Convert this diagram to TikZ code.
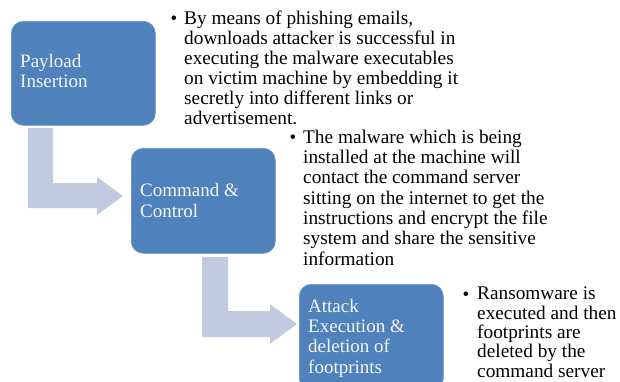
\documentclass[tikz,border=0pt]{standalone}
\usepackage{fontspec}
\setmainfont{Liberation Serif}
\definecolor{boxblue}{HTML}{4F81BD}
\definecolor{arrowgray}{HTML}{C1CBE0}
\definecolor{boxtext}{HTML}{F4F6FA}
\begin{document}
\begin{tikzpicture}[x=1pt,y=-1pt,
  stagebox/.style={fill=boxblue,draw=boxblue!85!white,line width=0.6pt,rounded corners=12pt,minimum width=144pt,anchor=north west,inner sep=0pt},
  stagetext/.style={anchor=base west,align=left,text=boxtext,font=\fontsize{19}{20.2}\selectfont,inner sep=0pt},
  bullettext/.style={anchor=base west,align=left,text=black,font=\fontsize{19.3}{20.3}\selectfont,inner sep=0pt},
  bulletdot/.style={anchor=base,text=black,font=\fontsize{19}{20}\selectfont,inner sep=0pt},
  bentarrow/.style={fill=arrowgray}]
\useasboundingbox (0,0) rectangle (620,382);
% bent arrows
\fill[bentarrow] (28,128) -- (53,128) -- (53,183) -- (97,183) -- (97,177) -- (123,196) -- (97,215) -- (97,208) -- (28,208) -- cycle;
\fill[bentarrow] (202,257) -- (228,257) -- (228,311) -- (270,311) -- (270,304) -- (297,324) -- (270,344) -- (270,337) -- (202,337) -- cycle;
% boxes
\node[stagebox,minimum height=104pt] (b1) at (11,21) {};
\node[stagebox,minimum height=105pt] (b2) at (131,148) {};
\node[stagebox,minimum height=106pt] (b3) at (299,284) {};
% box texts (anchored at the baseline of their last line)
\node[stagetext] (t1) at (20,88) {Payload\\Insertion};
\node[stagetext] (t2) at (140,217) {Command \&\\Control};
\node[stagetext] (t3) at (308,373) {Attack\\Execution \&\\deletion of\\footprints};
% bullet texts (anchored at the baseline of their last line)
\node[bulletdot] (d1) at (174,25) {\textbullet};
\node[bullettext,font=\fontsize{19.3}{20}\selectfont] (p1) at (184,125) {By means of phishing emails,\\downloads attacker is successful in\\executing the malware executables\\on victim machine by embedding it\\secretly into different links or\\advertisement.};
\node[bulletdot] (d2) at (293,143) {\textbullet};
\node[bullettext] (p2) at (303,265) {The malware which is being\\installed at the machine will\\contact the command server\\sitting on the internet to get the\\instructions and encrypt the file\\system and share the sensitive\\information};
\node[bulletdot] (d3) at (466,300) {\textbullet};
\node[bullettext,font=\fontsize{19.3}{19.3}\selectfont] (p3) at (477,377) {Ransomware is\\executed and then\\footprints are\\deleted by the\\command server};
\end{tikzpicture}
\end{document}
